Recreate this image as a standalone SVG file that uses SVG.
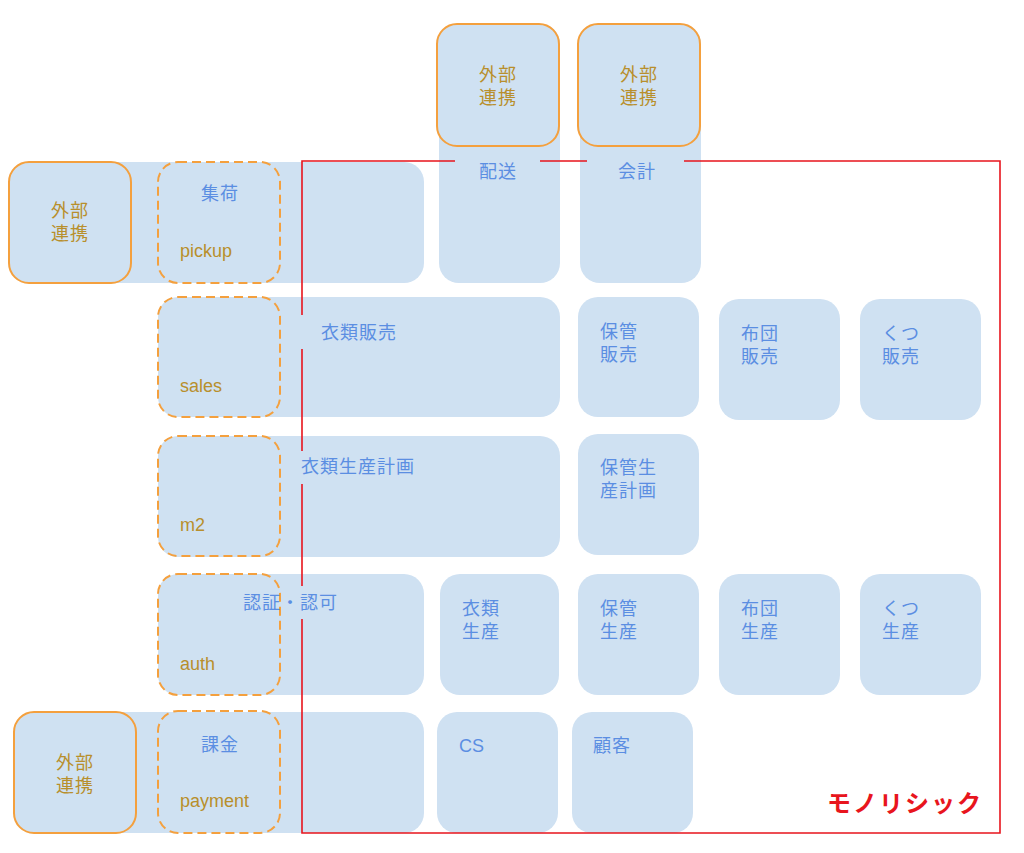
<svg xmlns="http://www.w3.org/2000/svg" width="1024" height="853" viewBox="0 0 1024 853">
<style>
.bx{fill:#cfe1f2;}
.ext{fill:#cfe1f2;stroke:#f4a03e;stroke-width:2;}
.dash{fill:none;stroke:#f4a03e;stroke-width:2;stroke-dasharray:9 5;}
.t{font-family:"Liberation Sans","Noto Sans CJK JP",sans-serif;font-size:18px;fill:#5b8ee2;letter-spacing:1px;}
.g{font-family:"Liberation Sans","Noto Sans CJK JP",sans-serif;font-size:18px;fill:#b88f2c;letter-spacing:1px;}
.l{font-family:"Liberation Sans",Arial,sans-serif;font-size:18px;fill:#b88f2c;}
.lb{font-family:"Liberation Sans",Arial,sans-serif;font-size:18px;fill:#5b8ee2;}
.c{text-anchor:middle;}
.red{stroke:#e8151d;stroke-width:1.6;fill:none;}
</style>
<rect width="1024" height="853" fill="#ffffff"/>

<g id="haiso">
<rect class="bx" x="439" y="24" width="121" height="259" rx="20"/>
<text class="t c" x="498" y="178">配送</text>
</g>
<g id="kaikei">
<rect class="bx" x="580" y="24" width="121" height="259" rx="20"/>
<text class="t c" x="637" y="178">会計</text>
</g>
<g id="ext-haiso">
<rect class="ext" x="437" y="24" width="122" height="122" rx="20"/>
<text class="g c" x="498" y="81">外部</text>
<text class="g c" x="498" y="104">連携</text>
</g>
<g id="ext-kaikei">
<rect class="ext" x="578" y="24" width="122" height="122" rx="20"/>
<text class="g c" x="639" y="81">外部</text>
<text class="g c" x="639" y="104">連携</text>
</g>

<g id="shuka">
<rect class="bx" x="9" y="162" width="415" height="121" rx="20"/>
<rect class="ext" x="9" y="162" width="122" height="121" rx="20"/>
<text class="g c" x="70" y="217">外部</text>
<text class="g c" x="70" y="240">連携</text>
<rect class="dash" x="158" y="162" width="122" height="121" rx="20"/>
<text class="t c" x="220" y="200">集荷</text>
<text class="l" x="180" y="257">pickup</text>
</g>

<g id="sales">
<rect class="bx" x="158" y="297" width="402" height="120" rx="20"/>
<rect class="dash" x="158" y="297" width="122" height="120" rx="20"/>
<text class="t" x="321" y="339">衣類販売</text>
<text class="l" x="180" y="392">sales</text>
</g>
<g id="hokan-hanbai">
<rect class="bx" x="578" y="297" width="121" height="120" rx="20"/>
<text class="t" x="600" y="338">保管</text>
<text class="t" x="600" y="361">販売</text>
</g>
<g id="futon-hanbai">
<rect class="bx" x="719" y="299" width="121" height="121" rx="20"/>
<text class="t" x="741" y="340">布団</text>
<text class="t" x="741" y="363">販売</text>
</g>
<g id="kutsu-hanbai">
<rect class="bx" x="860" y="299" width="121" height="121" rx="20"/>
<text class="t" x="882" y="340">くつ</text>
<text class="t" x="882" y="363">販売</text>
</g>

<g id="m2">
<rect class="bx" x="158" y="436" width="402" height="121" rx="20"/>
<rect class="dash" x="158" y="436" width="122" height="120" rx="20"/>
<text class="t" x="301" y="473">衣類生産計画</text>
<text class="l" x="180" y="531">m2</text>
</g>
<g id="hokan-keikaku">
<rect class="bx" x="578" y="434" width="121" height="121" rx="20"/>
<text class="t" x="600" y="474">保管生</text>
<text class="t" x="600" y="497">産計画</text>
</g>

<g id="auth">
<rect class="bx" x="158" y="574" width="266" height="121" rx="20"/>
<rect class="dash" x="158" y="574" width="122" height="121" rx="20"/>
<text class="t" x="243" y="609">認証・認可</text>
<text class="l" x="180" y="670">auth</text>
</g>
<g id="irui-seisan">
<rect class="bx" x="440" y="574" width="119" height="121" rx="20"/>
<text class="t" x="462" y="615">衣類</text>
<text class="t" x="462" y="638">生産</text>
</g>
<g id="hokan-seisan">
<rect class="bx" x="578" y="574" width="121" height="121" rx="20"/>
<text class="t" x="600" y="615">保管</text>
<text class="t" x="600" y="638">生産</text>
</g>
<g id="futon-seisan">
<rect class="bx" x="719" y="574" width="121" height="121" rx="20"/>
<text class="t" x="741" y="615">布団</text>
<text class="t" x="741" y="638">生産</text>
</g>
<g id="kutsu-seisan">
<rect class="bx" x="860" y="574" width="121" height="121" rx="20"/>
<text class="t" x="882" y="615">くつ</text>
<text class="t" x="882" y="638">生産</text>
</g>

<g id="payment">
<rect class="bx" x="14" y="712" width="410" height="121" rx="20"/>
<rect class="ext" x="14" y="712" width="122" height="121" rx="20"/>
<text class="g c" x="75" y="769">外部</text>
<text class="g c" x="75" y="792">連携</text>
<rect class="dash" x="158" y="711" width="122" height="122" rx="20"/>
<text class="t c" x="220" y="751">課金</text>
<text class="l" x="180" y="807">payment</text>
</g>
<g id="cs">
<rect class="bx" x="437" y="712" width="121" height="121" rx="20"/>
<text class="lb" x="459" y="752">CS</text>
</g>
<g id="kokyaku">
<rect class="bx" x="572" y="712" width="121" height="121" rx="20"/>
<text class="t" x="593" y="752">顧客</text>
</g>

<g id="monolithic">
<path class="red" d="M455 161 H302 V315 M302 349 V451 M302 484 V586 M302 619 V833 H1000 V161 H684 M587 161 H540"/>
<text x="983" y="812" text-anchor="end" font-family="Liberation Sans,Noto Sans CJK JP,sans-serif" font-weight="bold" font-size="24" letter-spacing="2" fill="#e8151d">モノリシック</text>
</g>
</svg>
